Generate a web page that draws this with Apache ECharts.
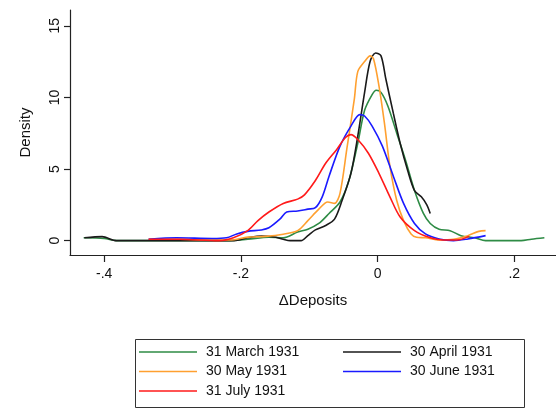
<!DOCTYPE html>
<html>
<head>
<meta charset="utf-8">
<script src="https://cdn.jsdelivr.net/npm/echarts@6/dist/echarts.min.js"></script>
<style>html,body{margin:0;padding:0;background:#fff}#c{width:556px;height:408px}</style>
</head>
<body>
<div id="c"></div>
<script>
// Series names
const seriesNames = ['31 March 1931', '30 April 1931', '30 May 1931', '30 June 1931', '31 July 1931'];
// Tick values
const xTicks = [-0.4, -0.2, 0, 0.2];
const yTicks = [0, 5, 10, 15];

// Kernel density curves: [ΔDeposits, Density]
const march = [[-0.43,0.2],[-0.40,0.15],[-0.382,0],[-0.30,0],[-0.22,0],[-0.19,0.1],[-0.159,0.24],[-0.138,0.2],[-0.117,0.6],[-0.102,0.8],[-0.086,1.2],[-0.071,1.9],[-0.055,2.7],[-0.042,4.2],[-0.029,6.8],[-0.019,9.1],[-0.008,10.2],[-0.002,10.5],[0.005,10.35],[0.015,9.4],[0.028,7.5],[0.041,5.6],[0.054,3.5],[0.067,1.9],[0.077,1.2],[0.09,0.8],[0.106,0.7],[0.122,0.35],[0.142,0.2],[0.158,0],[0.21,0],[0.225,0.1],[0.244,0.2]];
const april = [[-0.429,0.2],[-0.403,0.28],[-0.382,0],[-0.30,0],[-0.21,0],[-0.19,0.2],[-0.17,0.33],[-0.149,0.24],[-0.138,0.1],[-0.128,0],[-0.112,0],[-0.102,0.35],[-0.091,0.75],[-0.076,1.06],[-0.063,1.5],[-0.052,2.8],[-0.039,4.7],[-0.029,7.3],[-0.019,10.35],[-0.011,12.5],[-0.003,13.1],[0.005,12.9],[0.012,11.3],[0.023,8.9],[0.033,6.8],[0.044,4.9],[0.054,3.5],[0.064,3.06],[0.072,2.5],[0.077,1.9]];
const may = [[-0.335,0.1],[-0.29,0.1],[-0.24,0.05],[-0.216,0.05],[-0.19,0.25],[-0.164,0.3],[-0.138,0.45],[-0.117,0.7],[-0.102,1.4],[-0.086,2.2],[-0.073,2.7],[-0.063,2.6],[-0.055,3.3],[-0.045,6.4],[-0.034,9.9],[-0.029,11.8],[-0.019,12.5],[-0.011,12.9],[-0.006,12.7],[0.002,10.8],[0.01,8.2],[0.018,5.2],[0.028,2.8],[0.038,1.4],[0.049,0.47],[0.057,0.24],[0.07,0.2],[0.09,0.05],[0.111,0.1],[0.132,0.35],[0.148,0.65],[0.158,0.7]];
const june = [[-0.335,0.1],[-0.294,0.2],[-0.242,0.15],[-0.221,0.2],[-0.206,0.47],[-0.19,0.65],[-0.17,0.75],[-0.159,0.9],[-0.143,1.5],[-0.133,2.0],[-0.117,2.07],[-0.102,2.2],[-0.091,2.3],[-0.081,3.06],[-0.071,4.5],[-0.055,6.6],[-0.039,8.0],[-0.026,8.8],[-0.019,8.7],[-0.008,8.0],[0.007,6.6],[0.023,4.5],[0.038,2.6],[0.054,1.2],[0.07,0.47],[0.09,0.12],[0.111,0],[0.132,0.12],[0.158,0.35]];
const july = [[-0.335,0.1],[-0.29,0.1],[-0.232,0],[-0.211,0.2],[-0.19,0.7],[-0.175,1.4],[-0.159,2.0],[-0.138,2.6],[-0.117,2.9],[-0.107,3.2],[-0.091,4.2],[-0.076,5.4],[-0.06,6.35],[-0.047,7.2],[-0.039,7.4],[-0.029,7.06],[-0.0135,6.1],[0.002,4.7],[0.018,3.06],[0.033,1.65],[0.054,0.7],[0.075,0.24],[0.096,0.05],[0.116,0.05],[0.134,0.3]];

const colors = ['#2e8b45', '#1a1a1a', '#ffa030', '#1a1aff', '#ff1a1a'];
const dataSets = [march, april, may, june, july];

const font = 'Liberation Sans, Arial, sans-serif';
function fmtX(v) {
  if (Math.abs(v) < 1e-9) return '0';
  const s = String(Math.round(v * 10) / 10);
  return s.replace('0.', '.');
}

const legendText = {fontFamily: font, fontSize: 14, color: '#111', lineHeight: 16, padding: [0, 0, 0, 4]};
const chart = echarts.init(document.getElementById('c'), null, {renderer: 'canvas'});
chart.setOption({
  backgroundColor: '#ffffff',
  animation: false,
  grid: {left: 70, right: 0, top: 10, bottom: 153, containLabel: false},
  xAxis: {
    type: 'value', min: -0.45, max: 0.261,
    name: 'ΔDeposits', nameLocation: 'middle', nameGap: 38,
    nameTextStyle: {fontFamily: font, fontSize: 15, color: '#111'},
    axisLine: {show: true, onZero: false, lineStyle: {color: '#222', width: 1.2}},
    axisTick: {show: true, length: 7, lineStyle: {color: '#222', width: 1.2}, customValues: xTicks},
    axisLabel: {fontFamily: font, fontSize: 14, color: '#111', margin: 12, customValues: xTicks, formatter: fmtX},
    splitLine: {show: false}
  },
  yAxis: {
    type: 'value', min: -1.0, max: 16.1,
    name: 'Density', nameLocation: 'middle', nameGap: 37,
    nameTextStyle: {fontFamily: font, fontSize: 15, color: '#111'},
    axisLine: {show: true, onZero: false, lineStyle: {color: '#222', width: 1.2}},
    axisTick: {show: true, length: 6, lineStyle: {color: '#222', width: 1.2}, customValues: yTicks},
    axisLabel: {fontFamily: font, fontSize: 14, color: '#111', margin: 8, rotate: 90, customValues: yTicks},
    splitLine: {show: false}
  },
  legend: [
    {
      data: [seriesNames[0], seriesNames[2], seriesNames[4]],
      orient: 'vertical', left: 139, top: 344, height: 64, padding: 0,
      icon: 'rect', itemWidth: 58, itemHeight: 1.5, itemGap: 3.5,
      textStyle: legendText
    },
    {
      data: [seriesNames[1], seriesNames[3]],
      orient: 'vertical', left: 343, top: 344, height: 64, padding: 0,
      icon: 'rect', itemWidth: 58, itemHeight: 1.5, itemGap: 3.5,
      textStyle: legendText
    }
  ],
  graphic: [{
    type: 'rect', left: 133, top: 337,
    shape: {width: 389, height: 68},
    style: {fill: 'none', stroke: '#333', lineWidth: 1}
  }],
  series: dataSets.map((d, i) => ({
    name: seriesNames[i], type: 'line', data: d,
    symbol: 'none', smooth: 0.3,
    lineStyle: {color: colors[i], width: 1.6},
    itemStyle: {color: colors[i]},
    z: 2 + i
  }))
});
</script>
</body>
</html>
